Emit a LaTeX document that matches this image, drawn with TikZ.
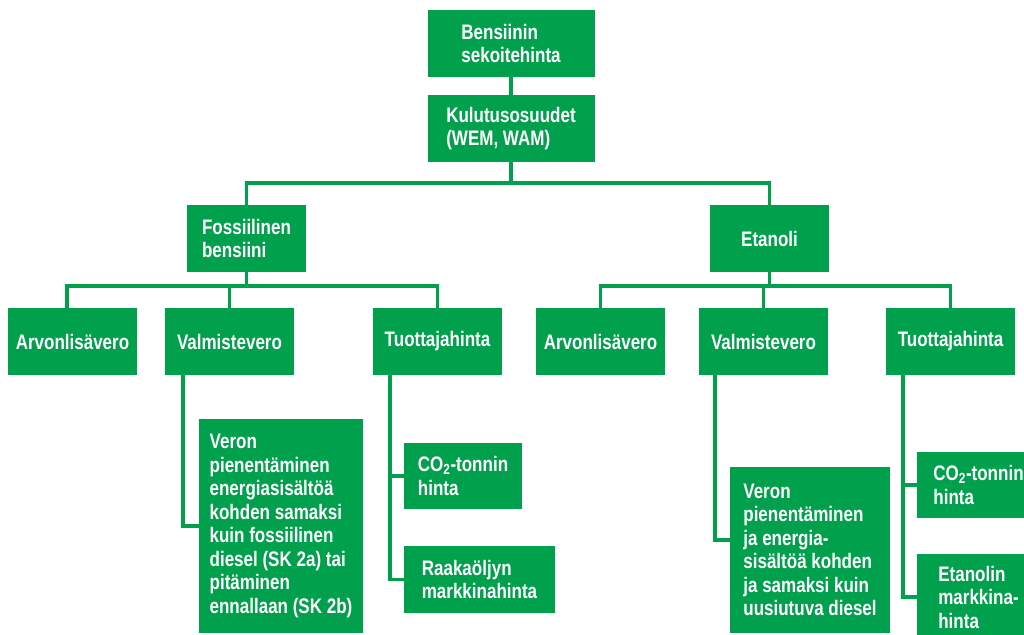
\documentclass[tikz,border=0pt]{standalone}
\usepackage{fontspec}
\setmainfont{Liberation Sans}[FakeStretch=0.81]
\usetikzlibrary{calc}
\definecolor{G}{RGB}{0,160,76}
\tikzset{
  box/.style={fill=G, text=white, font=\fontsize{21}{23.5}\selectfont\bfseries, align=left, inner sep=0pt},
  conn/.style={draw=G, line width=3.6pt}
}
\begin{document}
\begin{tikzpicture}[x=1pt,y=-1pt]
\useasboundingbox (0,0) rectangle (1024,634);
\clip (0,0) rectangle (1024,634);
\node[box, minimum width=167pt, minimum height=67pt] (top) at (511,43.5) {Bensiinin\\sekoitehinta};
\node[box, minimum width=167pt, minimum height=67pt] (kul) at (511,128.5) {Kulutusosuudet\\(WEM, WAM)};
\node[box, minimum width=119pt, minimum height=67pt] (fos) at (246.5,238.5) {Fossiilinen\\bensiini};
\node[box, minimum width=119pt, minimum height=67pt] (eta) at (769.5,238.5) {Etanoli};
\node[box, minimum width=129pt, minimum height=67pt] (a1) at (72.5,341.5) {Arvonlisävero};
\node[box, minimum width=129pt, minimum height=67pt] (v1) at (229.5,341.5) {Valmistevero};
\node[box, minimum width=129pt, minimum height=67pt] (t1) at (437.5,341.5) {Tuottajahinta};
\node[box, minimum width=129pt, minimum height=67pt] (a2) at (600.5,341.5) {Arvonlisävero};
\node[box, minimum width=129pt, minimum height=67pt] (v2) at (763.5,341.5) {Valmistevero};
\node[box, minimum width=129pt, minimum height=67pt] (t2) at (950.5,341.5) {Tuottajahinta};
\node[box, minimum width=164pt, minimum height=214pt] (ver1) at (281,526) {Veron\\pienentäminen\\energiasisältöä\\kohden samaksi\\kuin fossiilinen\\diesel (SK 2a) tai\\pitäminen\\ennallaan (SK 2b)};
\node[box, minimum width=118pt, minimum height=66pt] (co1) at (463,476) {CO\textsubscript{2}-tonnin\\hinta};
\node[box, minimum width=151pt, minimum height=67pt] (raa) at (479.5,579.5) {Raakaöljyn\\markkinahinta};
\node[box, minimum width=160pt, minimum height=166pt] (ver2) at (810,550) {Veron\\pienentäminen\\ja energia-\\sisältöä kohden\\ja samaksi kuin\\uusiutuva diesel};
\node[box, minimum width=123pt, minimum height=66pt] (co2) at (978.5,485) {CO\textsubscript{2}-tonnin\\hinta};
\node[box, minimum width=123pt, minimum height=86pt] (etm) at (978.5,597) {Etanolin\\markkina-\\hinta};
% connectors
\coordinate (kj) at ($(kul.south)+(0,21)$);
\coordinate (fj) at ($(fos.south)+(0,14)$);
\coordinate (ej) at ($(eta.south)+(0,14)$);
\draw[conn] (top.south) -- (kul.north);
\draw[conn] (kul.south) -- (kj);
\draw[conn] (fos.north) |- (kj) -| (eta.north);
\draw[conn] (fos.south) -- (fj);
\draw[conn] ([xshift=-5.5pt]a1.north) |- (fj) -| (t1.north);
\draw[conn] (v1.north) -- (v1.north |- fj);
\draw[conn] (eta.south) -- (ej);
\draw[conn] (a2.north) |- (ej) -| (t2.north);
\draw[conn] (v2.north) -- (v2.north |- ej);
\draw[conn] ([xshift=18pt]v1.south west) |- (ver1.west);
\draw[conn] ([xshift=16pt]v2.south west) |- ([yshift=10pt]ver2.west);
\draw[conn] ([xshift=17pt]t1.south west) |- (co1.west);
\draw[conn] ([xshift=17pt]t1.south west) |- (raa.west);
\draw[conn] ([xshift=17pt]t2.south west) |- (co2.west);
\draw[conn] ([xshift=17pt]t2.south west) |- (etm.west);
\end{tikzpicture}
\end{document}
